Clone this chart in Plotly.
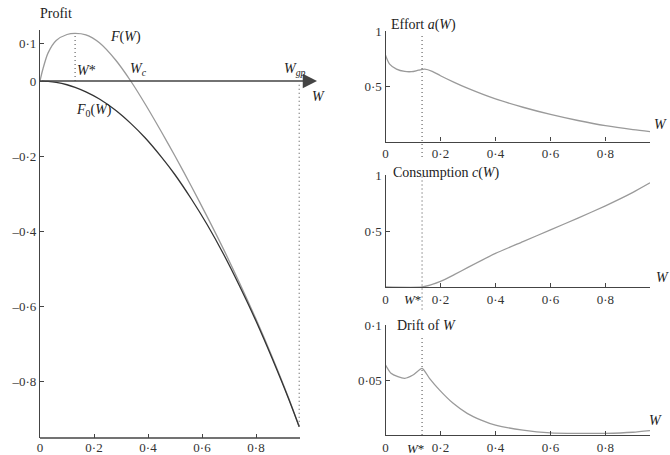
import plotly.graph_objects as go

# ---------------- data ----------------
W_PROFIT = [0, 0.01, 0.03, 0.06, 0.1, 0.13, 0.17, 0.22, 0.28, 0.336, 0.39, 0.45, 0.5,
            0.56, 0.62, 0.68, 0.74, 0.8, 0.86, 0.92, 0.96]
F_VALUES = [0, 0.03, 0.075, 0.108, 0.124, 0.127, 0.123, 0.102, 0.056, 0.0, -0.062, -0.136,
            -0.2, -0.28, -0.363, -0.449, -0.54, -0.635, -0.736, -0.844, -0.922]
F0_VALUES = [0, -0.0001, -0.0009, -0.0036, -0.01, -0.017, -0.029, -0.048, -0.078, -0.113,
             -0.152, -0.203, -0.25, -0.314, -0.384, -0.462, -0.548, -0.64, -0.74, -0.846, -0.922]

W_EFFORT = [0, 0.015, 0.04, 0.07, 0.095, 0.12, 0.143, 0.17, 0.2, 0.25, 0.3, 0.4, 0.5, 0.6,
            0.7, 0.8, 0.9, 0.962]
EFFORT = [0.78, 0.70, 0.655, 0.634, 0.632, 0.645, 0.655, 0.635, 0.595, 0.535, 0.48, 0.385, 0.31,
          0.245, 0.19, 0.143, 0.108, 0.09]

W_CONS = [0, 0.133, 0.2, 0.25, 0.3, 0.4, 0.5, 0.6, 0.7, 0.8, 0.9, 0.962]
CONS = [0, 0, 0.05, 0.11, 0.175, 0.3, 0.405, 0.51, 0.615, 0.725, 0.845, 0.93]

W_DRIFT = [0, 0.02, 0.045, 0.07, 0.1, 0.133, 0.16, 0.196, 0.245, 0.297, 0.348, 0.4, 0.5,
           0.6, 0.7, 0.8, 0.9, 0.962]
DRIFT = [0.0636, 0.0561, 0.053, 0.0515, 0.0545, 0.0606, 0.0515, 0.041, 0.029, 0.0197,
         0.0136, 0.009, 0.0045, 0.002, 0.0015, 0.0015, 0.0025, 0.004]

W_STAR = 0.13
W_STAR_R = 0.133
W_GP = 0.96
F_PEAK = 0.127

X_TICKS = [0, 0.2, 0.4, 0.6, 0.8]
X_TICKTEXT = ['0', '0·2', '0·4', '0·6', '0·8']
Y_PROFIT_TICKS = [0.1, 0, -0.2, -0.4, -0.6, -0.8]
Y_PROFIT_TEXT = ['0·1', '0', '–0·2', '–0·4', '–0·6', '–0·8']
Y_UNIT_TICKS = [0.5, 1]
Y_UNIT_TEXT = ['0·5', '1']
Y_DRIFT_TICKS = [0.05, 0.1]
Y_DRIFT_TEXT = ['0·05', '0·1']

# ---------------- figure ----------------
FONT = 'Liberation Serif'
AX = '#444'
GRAY = '#9a9a9a'
W_PX, H_PX = 670, 455

fig = go.Figure()
fig.add_trace(go.Scatter(x=W_PROFIT, y=F_VALUES, mode='lines', line=dict(color=GRAY, width=1.3, shape='spline', smoothing=0.8),
                         xaxis='x', yaxis='y', showlegend=False))
fig.add_trace(go.Scatter(x=W_PROFIT, y=F0_VALUES, mode='lines', line=dict(color='#333', width=1.3, shape='spline'),
                         xaxis='x', yaxis='y', showlegend=False))
fig.add_trace(go.Scatter(x=W_EFFORT, y=EFFORT, mode='lines', line=dict(color=GRAY, width=1.3, shape='spline', smoothing=0.8),
                         xaxis='x2', yaxis='y2', showlegend=False))
fig.add_trace(go.Scatter(x=W_CONS, y=CONS, mode='lines', line=dict(color=GRAY, width=1.3, shape='spline', smoothing=0.5),
                         xaxis='x3', yaxis='y3', showlegend=False))
fig.add_trace(go.Scatter(x=W_DRIFT, y=DRIFT, mode='lines', line=dict(color=GRAY, width=1.3, shape='spline', smoothing=0.6),
                         xaxis='x4', yaxis='y4', showlegend=False))

tickfont = dict(family=FONT, size=13, color='#333')
common_x = dict(ticks='inside', ticklen=4, tickcolor=AX, tickfont=tickfont, showgrid=False,
                zeroline=False, tickvals=X_TICKS, ticktext=X_TICKTEXT, automargin=False)
common_y = dict(ticks='inside', ticklen=4, tickcolor=AX, tickfont=tickfont, showgrid=False,
                zeroline=False, showline=True, linecolor=AX, linewidth=1.3, automargin=False)

L_X0, L_PXU = 40, 270
R_X0, R_X1 = 385.5, 650
XMAX_L = 1.03
XEND_L = 0.963
XMAX_R = 0.962

fig.update_layout(
    width=W_PX, height=H_PX, margin=dict(l=0, r=0, t=0, b=0, autoexpand=False),
    paper_bgcolor='white', plot_bgcolor='white',
    font=dict(family=FONT, size=13, color='#222'),
    xaxis=dict(domain=[L_X0 / W_PX, (L_X0 + XMAX_L * L_PXU) / W_PX], range=[0, XMAX_L],
               showline=False, anchor='y', **common_x),
    yaxis=dict(domain=[17 / H_PX, 425 / H_PX], range=[-0.952, 0.136], anchor='x',
               tickvals=Y_PROFIT_TICKS, ticktext=Y_PROFIT_TEXT, **common_y),
    xaxis2=dict(domain=[R_X0 / W_PX, R_X1 / W_PX], range=[0, XMAX_R], anchor='y2',
                showline=True, linecolor=AX, linewidth=1.3, **common_x),
    yaxis2=dict(domain=[(H_PX - 141.5) / H_PX, (H_PX - 31) / H_PX], range=[0, 1], anchor='x2',
                tickvals=Y_UNIT_TICKS, ticktext=Y_UNIT_TEXT, **common_y),
    xaxis3=dict(domain=[R_X0 / W_PX, R_X1 / W_PX], range=[0, XMAX_R], anchor='y3',
                showline=True, linecolor=AX, linewidth=1.3, **common_x),
    yaxis3=dict(domain=[(H_PX - 287) / H_PX, (H_PX - 175) / H_PX], range=[0, 1], anchor='x3',
                tickvals=Y_UNIT_TICKS, ticktext=Y_UNIT_TEXT, **common_y),
    xaxis4=dict(domain=[R_X0 / W_PX, R_X1 / W_PX], range=[0, XMAX_R], anchor='y4',
                showline=True, linecolor=AX, linewidth=1.3, **common_x),
    yaxis4=dict(domain=[(H_PX - 435) / H_PX, (H_PX - 325) / H_PX], range=[0, 0.1], anchor='x4',
                tickvals=Y_DRIFT_TICKS, ticktext=Y_DRIFT_TEXT, **common_y),
)

# bottom axis line of left panel (stops at W_gp)
fig.add_shape(type='line', xref='x domain', yref='y domain', x0=0, x1=XEND_L / XMAX_L, y0=0, y1=0,
              line=dict(color=AX, width=1.3))
# dotted guides
dot = dict(color='#666', width=1.2, dash='1px,3px')
fig.add_shape(type='line', xref='x', yref='y', x0=W_STAR, x1=W_STAR, y0=0, y1=F_PEAK, line=dot)
fig.add_shape(type='line', xref='x', yref='y', x0=W_GP, x1=W_GP, y0=-0.01, y1=F_VALUES[-1], line=dot)
fig.add_shape(type='line', xref='x2 domain', yref='y2 domain', x0=W_STAR_R / XMAX_R, x1=W_STAR_R / XMAX_R,
              y0=-0.14, y1=0.98, line=dot)
fig.add_shape(type='line', xref='x3 domain', yref='y3 domain', x0=W_STAR_R / XMAX_R, x1=W_STAR_R / XMAX_R,
              y0=-0.2, y1=1.0, line=dot)
fig.add_shape(type='line', xref='x4 domain', yref='y4 domain', x0=W_STAR_R / XMAX_R, x1=W_STAR_R / XMAX_R,
              y0=0, y1=0.89, line=dot)

# zero-line arrow
fig.add_annotation(x=1.026, y=0, ax=0, ay=0, xref='x', yref='y', axref='x', ayref='y', text='',
                   showarrow=True, arrowhead=2, arrowsize=2.2, arrowwidth=1.3, arrowcolor=AX)

def label(text, x, y, xref, yref, xanchor='left', yanchor='middle', size=14, xshift=0, yshift=0):
    fig.add_annotation(text=text, x=x, y=y, xref=xref, yref=yref, xanchor=xanchor, yanchor=yanchor,
                       showarrow=False, font=dict(family=FONT, size=size, color='#222'),
                       xshift=xshift, yshift=yshift)

# left panel labels
label('Profit', 0, 1, 'x', 'y domain', yanchor='bottom', size=14, xshift=-2, yshift=7)
label('<i>F</i>(<i>W</i>)', 0.25, 0.118, 'x', 'y', size=14)
label('<i>W</i>*', W_STAR, 0, 'x', 'y', yanchor='bottom', size=14, yshift=1)
label('<i>W<sub>c</sub></i>', 0.325, 0, 'x', 'y', yanchor='bottom', size=14, yshift=1)
label('<i>W<sub>gp</sub></i>', 0.895, 0, 'x', 'y', yanchor='bottom', size=14, yshift=1)
label('<i>W</i>', 1.0, -0.042, 'x', 'y', size=14)
label('<i>F</i><sub>0</sub>(<i>W</i>)', 0.125, -0.078, 'x', 'y', size=14)

# right panel labels
label('Effort <i>a</i>(<i>W</i>)', 0, 1, 'x2', 'y2 domain', size=14, xshift=3, yshift=6)
label('Consumption <i>c</i>(<i>W</i>)', 0, 1, 'x3', 'y3 domain', size=14, xshift=5, yshift=2)
label('Drift of <i>W</i>', 0, 1, 'x4', 'y4 domain', size=14, xshift=9, yshift=0)
label('<i>W</i>', XMAX_R, 0, 'x2', 'y2', yanchor='bottom', size=14, xshift=2, yshift=8)
label('<i>W</i>', XMAX_R, 0, 'x3', 'y3', yanchor='bottom', size=14, xshift=4, yshift=0)
label('<i>W</i>', XMAX_R, 0, 'x4', 'y4', yanchor='bottom', size=14, xshift=-3, yshift=5)
label('<i>W</i>*', W_STAR_R, 0, 'x3', 'y3', xanchor='right', yanchor='top', size=13, xshift=1, yshift=-3)
label('<i>W</i>*', W_STAR_R, 0, 'x4', 'y4', xanchor='right', yanchor='top', size=13, xshift=4, yshift=-4)

fig.write_html('out.html', config={'displayModeBar': False},
               post_script="document.body.style.margin='0';document.body.style.padding='0';")
